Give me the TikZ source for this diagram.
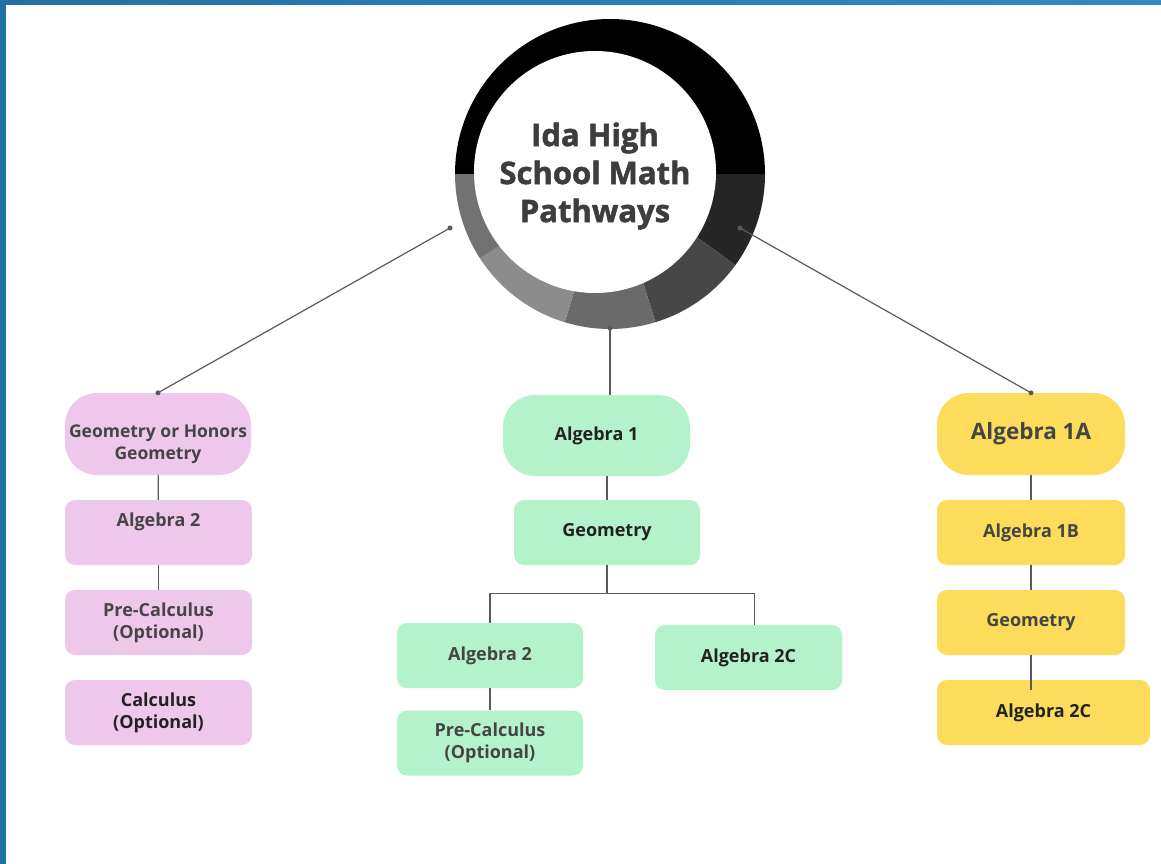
\documentclass[tikz,border=0pt]{standalone}
\usepackage{fontspec}
\setmainfont{Open Sans}
\newfontfamily\titlefont[BoldFeatures={FakeBold=1.6}]{Open Sans}
\usetikzlibrary{positioning}

\definecolor{pinkbox}{HTML}{EEC8EA}
\definecolor{greenbox}{HTML}{B4F2CB}
\definecolor{yellowbox}{HTML}{FDDB5B}
\definecolor{textgray}{HTML}{454545}
\definecolor{textdark}{HTML}{222222}
\definecolor{titlegray}{HTML}{3D3D3D}
\definecolor{linegray}{HTML}{5A5A5A}
\definecolor{framea}{HTML}{2271A2}
\definecolor{frameb}{HTML}{3489BF}
\definecolor{ringa}{HTML}{262626}
\definecolor{ringb}{HTML}{474747}
\definecolor{ringc}{HTML}{6A6A6A}
\definecolor{ringd}{HTML}{8C8C8C}
\definecolor{ringe}{HTML}{727272}

\tikzset{
  course/.style={rectangle, rounded corners=10pt, minimum width=187pt,
    minimum height=65pt, inner sep=0pt, align=center, text=textgray,
    font=\fontsize{18}{22}\selectfont\bfseries},
  pill/.style={course, rounded corners=32pt, minimum height=82pt},
  link/.style={draw=linegray, line width=1.2pt},
}

\begin{document}
\begin{tikzpicture}[x=1pt,y=-1pt]
%% frame
\fill[white] (0,0) rectangle (1161,864);
\useasboundingbox (0,0) rectangle (1161,864);
\shade[left color=framea, right color=frameb] (0,0) rectangle (1161,5);
\fill[framea] (0,0) rectangle (6,864);
%% ring
\fill[black] (610,174) -- ++(180:155) arc[start angle=180, end angle=360, radius=155] -- cycle;
\fill[ringa] (610,174) -- ++(0:155) arc[start angle=0, end angle=36, radius=155] -- cycle;
\fill[ringb] (610,174) -- ++(36:155) arc[start angle=36, end angle=73, radius=155] -- cycle;
\fill[ringc] (610,174) -- ++(73:155) arc[start angle=73, end angle=107, radius=155] -- cycle;
\fill[ringd] (610,174) -- ++(107:155) arc[start angle=107, end angle=147, radius=155] -- cycle;
\fill[ringe] (610,174) -- ++(147:155) arc[start angle=147, end angle=180, radius=155] -- cycle;
\node (node_hub) at (595,172) [circle, fill=white, minimum size=242pt, inner sep=0pt] {};
\node (node_title) at (595,176) [align=center, text=titlegray, font=\titlefont\fontsize{31}{38}\selectfont\bfseries] {Ida High\\School Math\\Pathways};
\coordinate (hub_l) at (450,228);
\coordinate (hub_r) at (740,228);
\coordinate (hub_b) at (610,328);
%% left pathway
\node (node_l1) at (158,434) [pill, fill=pinkbox, minimum width=186pt, text height=54pt, text depth=4pt,
  font=\fontsize{17.5}{22}\selectfont\bfseries] {Geometry or Honors\\Geometry};
\node (node_l2) at (158.5,532.5) [course, fill=pinkbox, text height=12pt, text depth=24pt] {Algebra 2};
\node (node_l3) at (158.5,622.5) [course, fill=pinkbox] {Pre-Calculus\\(Optional)};
\node (node_l4) at (158.5,712.5) [course, fill=pinkbox, text=textdark] {Calculus\\(Optional)};
%% middle pathway
\node (node_m1) at (596.5,435.5) [pill, fill=greenbox, minimum height=81pt, text=textdark] {Algebra 1};
\node (node_m2) at (607,532.5) [course, fill=greenbox, minimum width=186pt, text=textdark] {Geometry};
\node (node_m3) at (490,655.5) [course, fill=greenbox, minimum width=186pt] {Algebra 2};
\node (node_m4) at (748.5,657.5) [course, fill=greenbox, text=textdark] {Algebra 2C};
\node (node_m5) at (490,743) [course, fill=greenbox, minimum width=186pt] {Pre-Calculus\\(Optional)};
%% right pathway
\node (node_r1) at (1031,434) [pill, fill=yellowbox, minimum width=188pt, font=\fontsize{22.5}{22}\selectfont\bfseries] {Algebra 1A};
\node (node_r2) at (1031,532.5) [course, fill=yellowbox, minimum width=188pt] {Algebra 1B};
\node (node_r3) at (1031,622.5) [course, fill=yellowbox, minimum width=188pt] {Geometry};
\node (node_r4) at (1043.5,712.5) [course, fill=yellowbox, minimum width=213pt, text=textdark] {Algebra 2C};
%% connectors
\draw [link] (hub_l) -- (node_l1.north);
\draw [link] (hub_r) -- (node_r1.north);
\draw [link] (hub_b) -- (hub_b |- node_m1.north);
\fill [linegray] (hub_l) circle (2.5pt) (hub_r) circle (2.5pt) (hub_b) circle (2.5pt)
  (node_l1.north) circle (2.5pt) (node_r1.north) circle (2.5pt);
\draw [link] (node_l1) -- (node_l2);
\draw [link] (node_l2) -- (node_l3);
\draw [link] (node_m2.north) -- (node_m2.north |- node_m1.south);
\draw [link] (node_m2.south) -- ++(0,28) coordinate (fork);
\draw [link] (node_m3.north) |- (fork) -| ([xshift=6pt]node_m4.north);
\draw [link] (node_m3) -- (node_m5);
\draw [link] (node_r1) -- (node_r2);
\draw [link] (node_r2) -- (node_r3);
\draw [link, shorten >=-10pt] (node_r3.south) -- (node_r3.south |- node_r4.north);
%
\end{tikzpicture}
\end{document}
